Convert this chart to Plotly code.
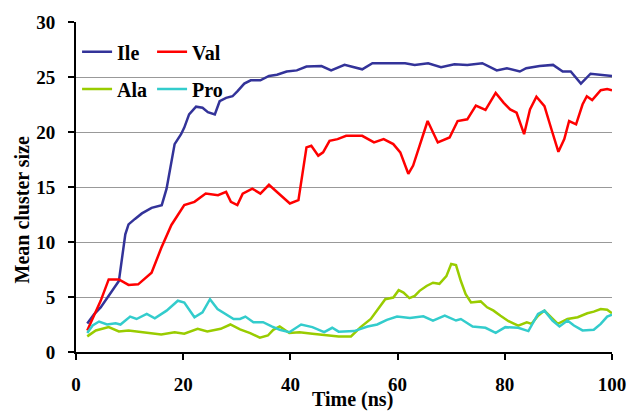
import plotly.graph_objects as go

# ---- data ----
ile_t = [2.1, 3.4, 4.6, 7.4, 8.0, 9.2, 9.8, 11.0, 12.3, 14.1, 16.0, 16.9, 17.8, 18.4, 19.6, 20.2,
         21.1, 22.4, 23.6, 24.6, 25.9, 26.8, 28.0, 29.2, 30.1, 31.4, 32.6, 34.4, 36.0, 37.5, 39.3,
         41.2, 43.0, 45.8, 47.6, 50.1, 53.4, 55.3, 61.4, 63.2, 65.7, 68.1, 70.6, 73.0, 75.8, 78.5,
         80.4, 82.8, 84.0, 86.5, 89.0, 90.8, 92.3, 94.2, 96.0, 98.2, 100.0]
ile_y = [2.6, 3.45, 4.05, 6.0, 6.45, 10.7, 11.6, 12.1, 12.6, 13.1, 13.35, 14.85, 17.25, 18.9, 19.8, 20.4,
         21.6, 22.3, 22.2, 21.8, 21.6, 22.8, 23.1, 23.25, 23.7, 24.4, 24.7, 24.7, 25.1, 25.2, 25.5,
         25.6, 25.95, 26.0, 25.6, 26.1, 25.7, 26.25, 26.25, 26.1, 26.25, 25.9, 26.15, 26.1, 26.25, 25.6,
         25.8, 25.5, 25.8, 26.0, 26.1, 25.5, 25.5, 24.4, 25.3, 25.2, 25.1]

val_t = [2.1, 4.6, 6.1, 8.0, 9.8, 11.6, 14.1, 15.9, 17.8, 20.2, 22.1, 24.2, 26.5, 28.0, 28.9, 30.1,
         31.1, 32.9, 34.4, 36.0, 37.5, 39.9, 41.5, 43.0, 43.9, 45.2, 46.1, 47.3, 48.8, 50.4, 53.4,
         55.6, 57.4, 59.2, 60.5, 62.0, 62.9, 64.5, 65.6, 67.5, 69.7, 71.2, 73.0, 74.6, 76.4, 78.3,
         79.8, 81.0, 82.2, 83.6, 84.7, 85.9, 87.4, 88.7, 90.0, 91.1, 92.0, 93.3, 94.5, 95.3, 96.3,
         97.9, 99.1, 100.0]
val_y = [1.95, 4.65, 6.6, 6.6, 6.1, 6.15, 7.2, 9.45, 11.55, 13.35, 13.65, 14.4, 14.25, 14.55, 13.65, 13.35,
         14.4, 14.85, 14.4, 15.2, 14.55, 13.5, 13.8, 18.6, 18.75, 17.85, 18.15, 19.2, 19.35, 19.65, 19.65,
         19.05, 19.35, 18.9, 18.15, 16.2, 16.95, 19.35, 21.0, 19.05, 19.5, 21.0, 21.15, 22.4, 22.0, 23.55,
         22.65, 22.05, 21.75, 19.8, 22.05, 23.2, 22.35, 20.25, 18.2, 19.35, 21.0, 20.7, 22.5, 23.25, 22.9,
         23.8, 23.9, 23.8]

ala_t = [2.1, 3.7, 6.1, 8.0, 9.8, 12.3, 14.1, 15.9, 18.4, 20.2, 22.7, 24.5, 27.0, 28.8, 30.6, 32.5,
         34.3, 35.8, 36.8, 38.0, 39.8, 41.7, 44.1, 46.6, 49.0, 51.3, 53.1, 55.0, 56.2, 57.7, 59.2,
         60.2, 61.1, 62.2, 63.2, 64.1, 65.4, 66.6, 67.8, 69.1, 70.0, 70.9, 71.8, 72.7, 73.7, 75.5,
         76.7, 77.9, 79.2, 80.7, 82.5, 84.1, 85.0, 86.2, 87.4, 88.7, 89.9, 91.7, 93.6, 95.4, 96.6,
         97.9, 99.1, 100.0]
ala_y = [1.42, 1.96, 2.26, 1.87, 1.96, 1.8, 1.72, 1.6, 1.8, 1.66, 2.11, 1.87, 2.11, 2.5, 2.05, 1.72,
         1.3, 1.5, 2.02, 2.32, 1.72, 1.8, 1.66, 1.51, 1.42, 1.42, 2.26, 3.0, 3.76, 4.8, 4.95,
         5.62, 5.4, 4.9, 5.1, 5.56, 6.0, 6.3, 6.2, 6.9, 8.0, 7.9, 6.45, 5.26, 4.5, 4.6,
         4.06, 3.76, 3.3, 2.8, 2.4, 2.7, 2.56, 3.3, 3.76, 3.16, 2.56, 3.0, 3.16, 3.52, 3.67,
         3.91, 3.85, 3.52]

pro_t = [2.1, 3.1, 4.3, 5.8, 7.4, 8.3, 10.1, 11.3, 13.2, 14.7, 16.9, 19.0, 20.2, 22.1, 23.6, 25.0,
         26.4, 27.9, 29.4, 30.6, 31.6, 33.1, 34.9, 36.5, 38.0, 39.8, 42.0, 44.1, 46.3, 47.8, 49.0,
         51.9, 54.4, 56.2, 58.0, 59.9, 62.3, 64.8, 66.6, 68.8, 70.9, 71.8, 74.0, 76.4, 78.3, 80.1,
         82.5, 84.4, 86.2, 87.4, 88.9, 90.2, 91.7, 92.9, 94.5, 96.6, 97.9, 99.1, 100.0]
pro_y = [1.72, 2.41, 2.77, 2.5, 2.62, 2.5, 3.22, 3.0, 3.46, 3.07, 3.76, 4.66, 4.5, 3.16, 3.6, 4.8,
         3.91, 3.46, 3.0, 3.0, 3.22, 2.71, 2.71, 2.32, 2.02, 1.8, 2.5, 2.26, 1.8, 2.2, 1.85,
         1.9, 2.32, 2.5, 2.92, 3.22, 3.1, 3.25, 2.86, 3.31, 2.86, 3.0, 2.32, 2.2, 1.75, 2.26,
         2.2, 1.9, 3.46, 3.76, 2.86, 2.32, 2.86, 2.41, 1.96, 2.02, 2.56, 3.22, 3.4]

x_ticks = [0, 20, 40, 60, 80, 100]
y_ticks = [0, 5, 10, 15, 20, 25, 30]
x_labels = ["<b>%d</b>" % v for v in x_ticks]
y_labels = ["<b>%d</b>" % v for v in y_ticks]

FONT = "Times New Roman"

fig = go.Figure()
fig.add_trace(go.Scatter(x=ile_t, y=ile_y, name="<b>Ile</b>", mode="lines",
                         line=dict(color="#333399", width=2.5), legend="legend"))
fig.add_trace(go.Scatter(x=val_t, y=val_y, name="<b>Val</b>", mode="lines",
                         line=dict(color="#FF0000", width=2.5), legend="legend"))
fig.add_trace(go.Scatter(x=ala_t, y=ala_y, name="<b>Ala</b>", mode="lines",
                         line=dict(color="#99CC00", width=2.5), legend="legend2"))
fig.add_trace(go.Scatter(x=pro_t, y=pro_y, name="<b>Pro</b>", mode="lines",
                         line=dict(color="#33CCCC", width=2.5), legend="legend2"))

legend_common = dict(orientation="h", font=dict(family=FONT, size=20, color="black"),
                     x=0.002, xanchor="left", yanchor="middle", entrywidth=30, entrywidthmode="pixels",
                     traceorder="normal")

fig.update_layout(
    width=638, height=414,
    margin=dict(l=76, r=18, t=18, b=62),
    paper_bgcolor="white", plot_bgcolor="white",
    legend=dict(**legend_common, y=0.91, bgcolor="white"),
    legend2=dict(**legend_common, y=0.797, bgcolor="rgba(0,0,0,0)"),
    xaxis=dict(range=[0, 100], tickvals=x_ticks, ticktext=x_labels, ticks="outside", ticklen=6, tickwidth=2,
               tickcolor="black", showline=True, linecolor="black", linewidth=2,
               showgrid=False, zeroline=False,
               tickfont=dict(family=FONT, size=19, color="black"),
               ticklabelstandoff=8),
    yaxis=dict(range=[0, 30], tickvals=y_ticks, ticktext=y_labels, ticks="outside", ticklen=6, tickwidth=2,
               tickcolor="black", showline=True, linecolor="black", linewidth=2,
               showgrid=True, gridcolor="#999999", gridwidth=1, zeroline=False,
               tickfont=dict(family=FONT, size=19, color="black"),
               ticklabelstandoff=9),
    annotations=[
        dict(text="<b>Mean cluster size</b>", xref="paper", yref="paper",
             x=-0.1, y=0.43, textangle=-90, showarrow=False,
             xanchor="center", yanchor="middle", font=dict(family=FONT, size=20, color="black")),
        dict(text="<b>Time (ns)</b>", xref="paper", yref="paper",
             x=0.5165, y=-0.186, showarrow=False,
             xanchor="center", yanchor="bottom", font=dict(family=FONT, size=20, color="black")),
    ],
)

fig.write_html("out.html")
